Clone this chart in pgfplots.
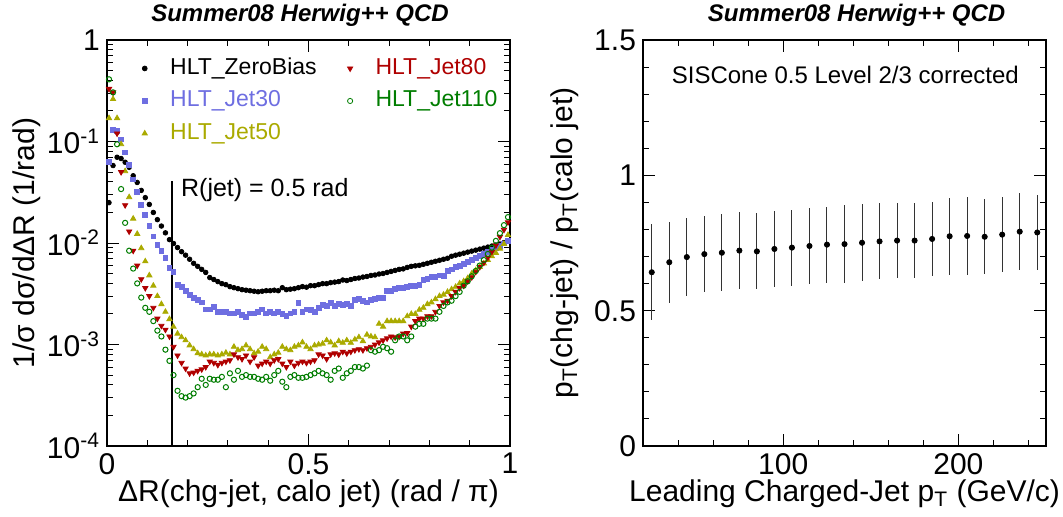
\documentclass[border=0pt]{standalone}
\usepackage{fontspec}
\setmainfont{Liberation Sans}
\usepackage{pgfplots}
\usepackage{pgfplotstable}
\pgfplotsset{compat=1.18}

\definecolor{cj30}{RGB}{110,110,225}
\definecolor{cj50}{RGB}{170,170,0}
\definecolor{cj80}{RGB}{175,0,0}
\definecolor{cj110}{RGB}{0,125,0}

% dR distributions, bins of 0.01
\pgfplotstableread{
x zb j30 j50 j80 j110
0.005 0.025 0.063 0.170 0.33 0.41
0.015 0.058 0.129 0.262 0.305 0.305
0.025 0.070 0.127 0.170 0.12 0.094
0.035 0.068 0.105 0.094 0.05 0.034
0.045 0.0625 0.078 0.051 0.0236 0.0158
0.055 0.0557 0.0587 0.0283 0.013 0.0084
0.065 0.046 0.0423 0.0174 0.0084 0.0056
0.075 0.0395 0.032 0.0123 0.006 0.0040
0.085 0.033 0.0236 0.0089 0.0044 0.0029
0.095 0.028 0.019 0.0066 0.0036 0.0023
0.105 0.024 0.0148 0.0048 0.0030 0.0021
0.115 0.020 0.0116 0.0038 0.0023 0.0017
0.125 0.017 0.0096 0.0030 0.0018 0.00137
0.135 0.0147 0.0083 0.0025 0.00153 0.0012
0.145 0.0126 0.0072 0.0021 0.0014 0.00089
0.155 0.0108 0.00565 0.00178 0.0012 0.00069
0.165 0.00989 0.00516 0.0015 0.00095 0.0005
0.175 0.00902 0.0039 0.00128 0.00078 0.00035
0.185 0.00822 0.0037 0.00118 0.00066 0.00031
0.195 0.00759 0.0034 0.0011 0.00058 0.0003
0.205 0.00692 0.0031 0.00098 0.00052 0.00031
0.215 0.00631 0.0029 0.0009 0.00053 0.00033
0.225 0.00589 0.00275 0.00082 0.00055 0.00038
0.235 0.0055 0.0026 0.0008 0.00057 0.00046
0.245 0.00513 0.00222 0.00078 0.0006 0.0004
0.255 0.00457 0.00222 0.0008 0.00068 0.00046
0.265 0.00437 0.00235 0.0008 0.00066 0.00045
0.275 0.00417 0.0021 0.00078 0.00063 0.00045
0.285 0.00398 0.0021 0.0008 0.00066 0.00048
0.295 0.00389 0.0021 0.00083 0.00068 0.00038
0.305 0.00372 0.00203 0.0008 0.0007 0.00052
0.315 0.00363 0.00203 0.00095 0.0008 0.00045
0.325 0.00355 0.0021 0.00088 0.00075 0.00055
0.335 0.00347 0.00195 0.0009 0.00072 0.00048
0.345 0.00343 0.00188 0.00098 0.00078 0.0005
0.355 0.00339 0.00203 0.0009 0.00068 0.00048
0.365 0.00335 0.00203 0.00082 0.00075 0.00048
0.375 0.00331 0.0021 0.00085 0.00062 0.00046
0.385 0.00335 0.00222 0.00095 0.00065 0.00045
0.395 0.00339 0.00203 0.0009 0.00068 0.00048
0.405 0.00339 0.0021 0.00075 0.00065 0.00044
0.415 0.00343 0.00203 0.0008 0.0007 0.0005
0.425 0.00339 0.0021 0.00083 0.00072 0.00055
0.435 0.00363 0.0020 0.00095 0.00065 0.00043
0.445 0.00347 0.0019 0.0009 0.0006 0.00038
0.455 0.00351 0.00203 0.00088 0.00068 0.00048
0.465 0.00355 0.0021 0.00095 0.00062 0.0005
0.475 0.00363 0.00255 0.00098 0.00066 0.00047
0.485 0.00372 0.0021 0.00105 0.00068 0.00047
0.495 0.00367 0.00222 0.00095 0.00066 0.00048
0.505 0.0038 0.0022 0.0009 0.00068 0.0005
0.515 0.0038 0.0021 0.00098 0.0007 0.00052
0.525 0.00389 0.0023 0.001 0.0008 0.00055
0.535 0.00398 0.00245 0.00102 0.00078 0.00052
0.545 0.00398 0.0024 0.0011 0.00072 0.0005
0.555 0.00407 0.00255 0.00105 0.0008 0.00045
0.565 0.00412 0.0024 0.00098 0.00082 0.00055
0.575 0.00417 0.0025 0.00108 0.0008 0.00058
0.585 0.00432 0.00245 0.00104 0.00085 0.00047
0.595 0.00427 0.0025 0.0011 0.00082 0.00052
0.605 0.00437 0.0024 0.00104 0.00085 0.00055
0.615 0.00447 0.00275 0.00112 0.00088 0.0006
0.625 0.00452 0.0028 0.00118 0.0009 0.0006
0.635 0.00462 0.0027 0.00108 0.00088 0.00058
0.645 0.00468 0.0026 0.00125 0.00092 0.00062
0.655 0.00479 0.00275 0.0012 0.00095 0.00088
0.665 0.00484 0.0028 0.00118 0.001 0.00085
0.675 0.00495 0.0029 0.0016 0.00105 0.00088
0.685 0.00501 0.0029 0.0015 0.0011 0.00095
0.695 0.00513 0.0034 0.0017 0.00115 0.00092
0.705 0.00525 0.0034 0.0017 0.0012 0.00085
0.715 0.00537 0.0035 0.0017 0.00118 0.0011
0.725 0.0055 0.0036 0.0017 0.0012 0.0012
0.735 0.00556 0.0036 0.0017 0.00128 0.0012
0.745 0.00575 0.0037 0.0019 0.0013 0.0011
0.755 0.00589 0.0038 0.002 0.0015 0.0012
0.765 0.00596 0.0038 0.002 0.0017 0.0015
0.775 0.00603 0.0039 0.0022 0.0018 0.0016
0.785 0.00617 0.0043 0.0023 0.0018 0.0016
0.795 0.00631 0.0044 0.0025 0.0019 0.0018
0.805 0.00646 0.0046 0.0026 0.0019 0.0018
0.815 0.00661 0.0046 0.0028 0.0021 0.0018
0.825 0.00676 0.0048 0.003 0.0024 0.0021
0.835 0.00692 0.0047 0.0031 0.0026 0.0024
0.845 0.00708 0.0053 0.0033 0.0027 0.0026
0.855 0.00741 0.0055 0.0035 0.003 0.0027
0.865 0.00759 0.0058 0.0037 0.0033 0.003
0.875 0.00776 0.0059 0.004 0.0036 0.0033
0.885 0.00794 0.0062 0.0042 0.0038 0.0038
0.895 0.00813 0.0065 0.0045 0.0042 0.0042
0.905 0.00832 0.0068 0.005 0.0046 0.0047
0.915 0.00851 0.0071 0.0054 0.0052 0.0053
0.925 0.00871 0.0074 0.0058 0.0058 0.006
0.935 0.00891 0.0078 0.0063 0.0064 0.0068
0.945 0.00912 0.0082 0.0068 0.0072 0.0078
0.955 0.00933 0.0086 0.0074 0.0082 0.009
0.965 0.00955 0.009 0.008 0.0095 0.0105
0.975 0.00977 0.0094 0.0088 0.0115 0.0125
0.985 0.0101 0.0099 0.0098 0.0135 0.015
0.995 0.0105 0.0104 0.012 0.016 0.018
}\drtable

% pT ratio vs leading charged-jet pT
\pgfplotstableread{
x y e
25 0.642 0.177
35 0.679 0.150
45 0.698 0.1435
55 0.709 0.1405
65 0.714 0.1415
75 0.722 0.141
85 0.719 0.1405
95 0.728 0.1415
105 0.733 0.1405
115 0.739 0.142
125 0.744 0.1405
135 0.746 0.143
145 0.751 0.1425
155 0.756 0.140
165 0.759 0.139
175 0.759 0.137
185 0.765 0.138
195 0.775 0.142
205 0.776 0.1445
215 0.773 0.1385
225 0.781 0.139
235 0.792 0.143
245 0.789 0.1375
}\ratiotable

\pgfplotsset{
  rootframe/.style={
    scale only axis, width=201.5pt, height=203pt,
    axis line style={line width=1pt},
    every tick/.style={black, line width=0.5pt},
    major tick length=6pt, minor tick length=3pt,
    tick align=inside,
    tick label style={font=\fontsize{15}{18}\selectfont},
    /pgf/number format/assume math mode=true,
    label style={font=\fontsize{15}{18}\selectfont},
    xlabel style={at={(axis description cs:0.5,-0.118)}, anchor=center},
    title style={font=\bfseries\itshape\fontsize{12}{14}\selectfont, anchor=center, yshift=-6pt},
  }
}

\begin{document}
\begin{tikzpicture}
\path[use as bounding box] (-53.5pt,-35pt) rectangle (478pt,223pt);

\begin{axis}[rootframe,
  ymode=log, log basis y=10,
  xmin=0, xmax=1, ymin=1e-4, ymax=1,
  xtick={0,0.5,1}, minor x tick num=4,
  yticklabel={\pgfmathtruncatemacro\myexp{round(\tick)}\ifnum\myexp=0 1\else 10\textsuperscript{\myexp}\fi},
  xlabel={ΔR(chg-jet, calo jet) (rad / π)},
  ylabel={1/σ dσ/dΔR (1/rad)},
  ylabel style={at={(axis description cs:-0.1985,0.5)}, anchor=center},
  title={Summer08 Herwig++ QCD},
  title style={at={(axis description cs:0.479,1.062)}},
  legend columns=2,
  legend cell align=left,
  legend image code/.code={%
    \path (0pt,-3pt) (18.5pt,3pt);
    \draw[#1] plot coordinates {(8pt,0pt)};},
  legend style={at={(axis description cs:0.052,0.958)}, anchor=north west,
    draw=none, fill=none, inner sep=0pt,
    font=\fontsize{11.5}{13}\selectfont,
    nodes={inner xsep=2pt, inner ysep=0pt, text height=8.5pt, text depth=2.5pt},
    /tikz/row sep=5.25pt,
    /tikz/every even column/.append style={column sep=6.5pt}},
]
\addlegendimage{only marks, mark=*, black, mark size=1.2pt}
\addlegendentry{HLT\_ZeroBias}
\addlegendimage{only marks, mark=triangle*, cj80, mark size=1.5pt, mark options={rotate=180}}
\addlegendentry{\textcolor{cj80}{HLT\_Jet80}}
\addlegendimage{only marks, mark=square*, cj30, mark size=1.2pt}
\addlegendentry{\textcolor{cj30}{HLT\_Jet30}}
\addlegendimage{only marks, mark=o, cj110, mark size=1.3pt}
\addlegendentry{\textcolor{cj110}{HLT\_Jet110}}
\addlegendimage{only marks, mark=triangle*, cj50, mark size=1.5pt}
\addlegendentry{\textcolor{cj50}{HLT\_Jet50}}

\addplot[forget plot, only marks, mark=*, black, mark size=1.15pt] table[x=x, y=zb] {\drtable};
\addplot[forget plot, only marks, mark=square*, cj30, mark size=1.2pt] table[x=x, y=j30] {\drtable};
\addplot[forget plot, only marks, mark=triangle*, cj50, mark size=1.5pt] table[x=x, y=j50] {\drtable};
\addplot[forget plot, only marks, mark=triangle*, cj80, mark size=1.5pt, mark options={rotate=180}] table[x=x, y=j80] {\drtable};
\addplot[forget plot, only marks, mark=o, cj110, mark size=1.3pt, line width=0.5pt] table[x=x, y=j110] {\drtable};

\addplot[forget plot, black, line width=1pt, no marks] coordinates {(0.162,1e-4) (0.162,0.0408)};
\node[anchor=west, inner sep=0pt, font=\fontsize{12.5}{15}\selectfont] at (axis cs:0.183,0.0335) {R(jet) = 0.5 rad};
\end{axis}

\begin{axis}[rootframe, at={(268pt,0pt)},
  xmin=20, xmax=250, ymin=0, ymax=1.5,
  xtick={100,200}, minor xtick={40,60,80,120,140,160,180,220,240},
  ytick={0,0.5,1,1.5}, minor y tick num=4,
  xlabel={Leading Charged-Jet p\textsubscript{T} (GeV/c)},
  ylabel={p\textsubscript{T}(chg-jet) / p\textsubscript{T}(calo jet)},
  ylabel style={at={(axis description cs:-0.194,0.5)}, anchor=center},
  title={Summer08 Herwig++ QCD},
  title style={at={(axis description cs:0.53,1.062)}},
]
\addplot[only marks, mark=*, black, mark size=1.3pt,
  error bars/.cd, y dir=both, y explicit, error mark=none,
  error bar style={black!80, line width=0.5pt}]
  table[x=x, y=y, y error=e] {\ratiotable};
\node[font=\fontsize{12}{14}\selectfont] at (axis description cs:0.502,0.914) {SISCone 0.5 Level 2/3 corrected};
\end{axis}
\end{tikzpicture}
\end{document}
